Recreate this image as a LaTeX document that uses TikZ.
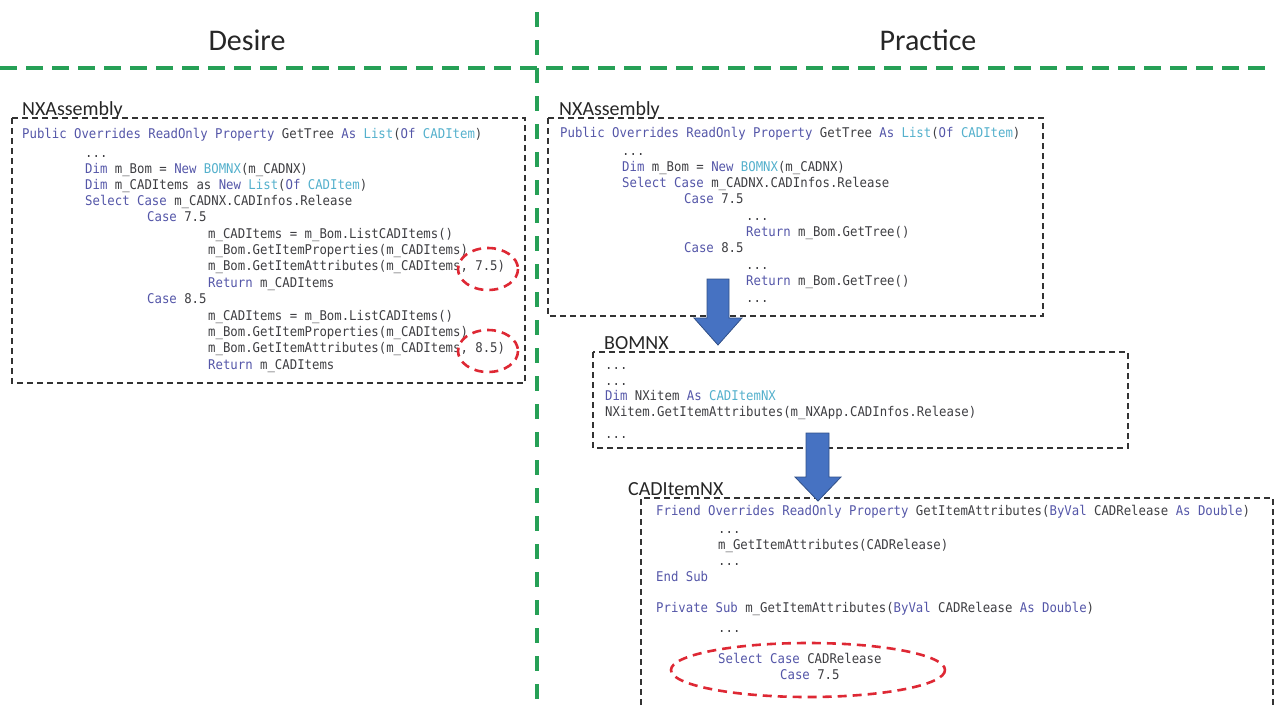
\documentclass[tikz,border=0pt]{standalone}
\usepackage{fontspec}
\setmainfont{Carlito}
\newfontfamily\codefont[FakeStretch=0.92]{DejaVu Sans Mono}
\definecolor{dgreen}{RGB}{38,160,86}
\definecolor{rred}{RGB}{222,40,52}
\definecolor{ablue}{RGB}{70,114,194}
\definecolor{kwcol}{RGB}{84,86,168}
\definecolor{tycol}{RGB}{84,176,204}
\definecolor{codegray}{RGB}{62,62,66}
\newcommand\kwd[1]{\textcolor{kwcol}{#1}}
\newcommand\typ[1]{\textcolor{tycol}{#1}}
\newcommand\codeline[4]{\node[code] (#1) at (#2,#3) {#4};}
\tikzset{
  code/.style={anchor=mid west, inner sep=0pt, text=codegray,
    font=\codefont\fontsize{13.4}{15}\selectfont},
  lbl/.style={anchor=base west, inner sep=0pt, text=black!85,
    font=\fontsize{20}{24}\selectfont},
  title/.style={inner sep=0pt, text=black!85, font=\fontsize{30}{36}\selectfont},
  box/.style={draw=black!80, line width=1.4pt, dash pattern=on 6pt off 4pt},
  greenline/.style={draw=dgreen, line width=4pt},
  ring/.style={draw=rred, line width=2.6pt, dash pattern=on 9pt off 6pt},
  blockarrow/.style={fill=ablue, draw=ablue!70!black, line width=0.8pt},
}
\begin{document}
\begin{tikzpicture}[x=1pt,y=-1pt]
\useasboundingbox (0,0) rectangle (1274,705);
\clip (0,0) rectangle (1274,705);

% section dividers
\draw[greenline, dash pattern=on 17pt off 9pt] (0,68) -- (1274,68);
\draw[greenline, dash pattern=on 15pt off 13pt] (537,12) -- (537,712);
\node[title] (desire) at (247,40) {Desire};
\node[title] (practice) at (928,40) {Practice};

% ---------- Desire: NXAssembly ----------
\node[lbl] (lblA) at (22,115) {NXAssembly};
\draw[box] (12,118) rectangle (525,383);
\codeline{a1}{22}{136}{\kwd{Public Overrides ReadOnly Property} GetTree \kwd{As} \typ{List}(\kwd{Of} \typ{CADItem})}
\codeline{a2}{85}{155}{...}
\codeline{a3}{85}{171}{\kwd{Dim} m\_Bom = \kwd{New} \typ{BOMNX}(m\_CADNX)}
\codeline{a4}{85}{187}{\kwd{Dim} m\_CADItems as \kwd{New} \typ{List}(\kwd{Of} \typ{CADItem})}
\codeline{a5}{85}{203}{\kwd{Select Case} m\_CADNX.CADInfos.Release}
\codeline{a6}{147}{219}{\kwd{Case} 7.5}
\codeline{a7}{208}{236}{m\_CADItems = m\_Bom.ListCADItems()}
\codeline{a8}{208}{252}{m\_Bom.GetItemProperties(m\_CADItems)}
\codeline{a9}{208}{268}{m\_Bom.GetItemAttributes(m\_CADItems, 7.5)}
\codeline{a10}{208}{285}{\kwd{Return} m\_CADItems}
\codeline{a11}{147}{301}{\kwd{Case} 8.5}
\codeline{a12}{208}{318}{m\_CADItems = m\_Bom.ListCADItems()}
\codeline{a13}{208}{334}{m\_Bom.GetItemProperties(m\_CADItems)}
\codeline{a14}{208}{350}{m\_Bom.GetItemAttributes(m\_CADItems, 8.5)}
\codeline{a15}{208}{367}{\kwd{Return} m\_CADItems}
\draw[ring] (488,269) ellipse [x radius=30, y radius=21];
\draw[ring] (488,351) ellipse [x radius=30, y radius=21];

% ---------- Practice: NXAssembly ----------
\node[lbl] (lblB) at (559,115) {NXAssembly};
\draw[box] (548,118) rectangle (1043,316);
\codeline{b1}{560}{135}{\kwd{Public Overrides ReadOnly Property} GetTree \kwd{As} \typ{List}(\kwd{Of} \typ{CADItem})}
\codeline{b2}{622}{153}{...}
\codeline{b3}{622}{169}{\kwd{Dim} m\_Bom = \kwd{New} \typ{BOMNX}(m\_CADNX)}
\codeline{b4}{622}{185}{\kwd{Select Case} m\_CADNX.CADInfos.Release}
\codeline{b5}{684}{201}{\kwd{Case} 7.5}
\codeline{b6}{746}{218}{...}
\codeline{b7}{746}{234}{\kwd{Return} m\_Bom.GetTree()}
\codeline{b8}{684}{250}{\kwd{Case} 8.5}
\codeline{b9}{746}{267}{...}
\codeline{b10}{746}{283}{\kwd{Return} m\_Bom.GetTree()}
\codeline{b11}{746}{300}{...}

% ---------- Practice: BOMNX ----------
\node[lbl] (lblC) at (604,349) {BOMNX};
\draw[box] (593,352) rectangle (1128,448);
\codeline{c1}{605}{367}{...}
\codeline{c2}{605}{383}{...}
\codeline{c3}{605}{398}{\kwd{Dim} NXitem \kwd{As} \typ{CADItemNX}}
\codeline{c4}{605}{414}{NXitem.GetItemAttributes(m\_NXApp.CADInfos.Release)}
\codeline{c5}{605}{436}{...}

% ---------- Practice: CADItemNX ----------
\node[lbl] (lblD) at (628,495) {CADItemNX};
\draw[box] (641,705) -- (641,498) -- (1273,498) -- (1273,705);
\codeline{d1}{656}{513}{\kwd{Friend Overrides ReadOnly Property} GetItemAttributes(\kwd{ByVal} CADRelease \kwd{As Double})}
\codeline{d2}{718}{531}{...}
\codeline{d3}{718}{547}{m\_GetItemAttributes(CADRelease)}
\codeline{d4}{718}{563}{...}
\codeline{d5}{656}{579}{\kwd{End Sub}}
\codeline{d6}{656}{610}{\kwd{Private Sub} m\_GetItemAttributes(\kwd{ByVal} CADRelease \kwd{As Double})}
\codeline{d7}{718}{630}{...}
\codeline{d8}{718}{661}{\kwd{Select Case} CADRelease}
\codeline{d9}{780}{677}{\kwd{Case} 7.5}
\draw[ring] (808,670) ellipse [x radius=137, y radius=27];

% block arrows between the classes
\draw[blockarrow] (707,279) -- (729,279) -- (729,318) -- (742,318) -- (718,345)
  -- (694,318) -- (707,318) -- cycle;
\draw[blockarrow] (806,433) -- (829,433) -- (829,477) -- (841,477) -- (818,501)
  -- (795,477) -- (806,477) -- cycle;
\end{tikzpicture}
\end{document}
